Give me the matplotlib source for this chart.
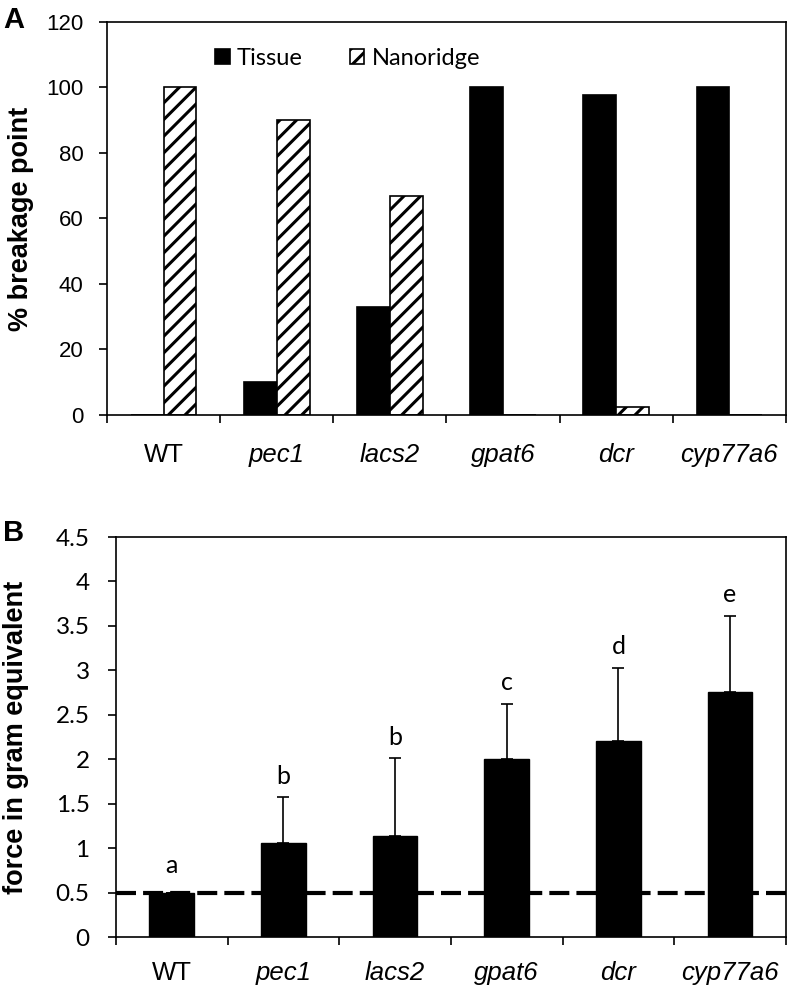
import numpy as np
import matplotlib
matplotlib.use('Agg')
import matplotlib.pyplot as plt

# data
genotypes = ['WT', 'pec1', 'lacs2', 'gpat6', 'dcr', 'cyp77a6']
tissue = [0, 10, 33, 100, 97.7, 100]
nanoridge = [100, 90, 67, 0, 2.5, 0]

force = [0.5, 1.06, 1.14, 2.0, 2.2, 2.76]
force_err = [0.0, 0.51, 0.87, 0.62, 0.83, 0.85]
letters = ['a', 'b', 'b', 'c', 'd', 'e']
threshold = 0.5

plt.rcParams['hatch.linewidth'] = 2.2
ARIAL = 'Liberation Sans'
CALIBRI = 'Lato'

fig = plt.figure(figsize=(7.89, 9.85), dpi=100)
axA = fig.add_axes([0.1356, 0.5787, 0.8606, 0.399])
axB = fig.add_axes([0.147, 0.0487, 0.849, 0.4061])

x = np.arange(len(genotypes)) + 0.5


def style_axis(ax, ylim, yticks, ylabel, ypad, tickfont, ticksize):
    for s in ax.spines.values():
        s.set_linewidth(1.2)
    ax.set_xlim(0, len(genotypes))
    ax.set_ylim(*ylim)
    ax.set_yticks(yticks)
    ax.set_yticklabels([('%g' % t) for t in yticks], fontsize=ticksize, family=tickfont)
    ax.tick_params(axis='y', direction='out', length=6, width=1.2, pad=ypad)
    # boundary ticks between groups, names sit on minor ticks at the centres
    ax.set_xticks(np.arange(len(genotypes) + 1))
    ax.set_xticklabels([])
    ax.tick_params(axis='x', which='major', direction='out', length=6, width=1.2)
    ax.set_xticks(x, minor=True)
    ax.set_xticklabels(genotypes, minor=True, fontsize=18.5, family=ARIAL)
    for lab, g in zip(ax.get_xticklabels(minor=True), genotypes):
        if g != 'WT':
            lab.set_style('italic')
    ax.set_ylabel(ylabel, fontsize=19.5, fontweight='bold', family=ARIAL)


# panel A
w = 0.29
axA.bar(x - w / 2, tissue, w, color='black', edgecolor='black', linewidth=1.2, label='Tissue')
axA.bar(x + w / 2, nanoridge, w, color='white', edgecolor='black', linewidth=1.2,
        hatch='//', label='Nanoridge')
style_axis(axA, (0, 120), range(0, 121, 20), '% breakage point', 11, ARIAL, 16)
axA.tick_params(axis='x', which='minor', length=0, pad=20)
axA.yaxis.set_label_coords(-0.108, 0.5)
axA.legend(loc='upper left', bbox_to_anchor=(0.159, 0.935), ncol=2, frameon=False,
           prop={'family': CALIBRI, 'size': 17}, handlelength=0.62, handleheight=0.62,
           handletextpad=0.3, columnspacing=2.0, borderpad=0, borderaxespad=0)

# panel B
axB.bar(x, force, 0.4, color='black', edgecolor='black')
axB.errorbar(x, force, yerr=[np.zeros(len(force)), force_err], fmt='none',
             ecolor='black', elinewidth=1.2, capsize=4.3, capthick=1.2)
axB.axhline(threshold, color='black', linewidth=3, linestyle=(0, (4.8, 1.7)), zorder=5)
style_axis(axB, (0, 4.5), np.arange(0, 4.6, 0.5), 'force in gram equivalent', 13, CALIBRI, 17.5)
axB.tick_params(axis='x', which='minor', length=0, pad=17)
axB.yaxis.set_label_coords(-0.13, 0.5)
for xi, f, e, l in zip(x, force, force_err, letters):
    axB.annotate(l, (xi, f + e), xytext=(0, 7 if e > 0 else 11), textcoords='offset points',
                 ha='center', va='bottom', fontsize=18, family=CALIBRI)

fig.text(0.004, 0.980, 'A', fontsize=21, fontweight='bold', family=ARIAL, va='center')
fig.text(0.004, 0.459, 'B', fontsize=21, fontweight='bold', family=ARIAL, va='center')

fig.savefig('out.png', dpi=100)
